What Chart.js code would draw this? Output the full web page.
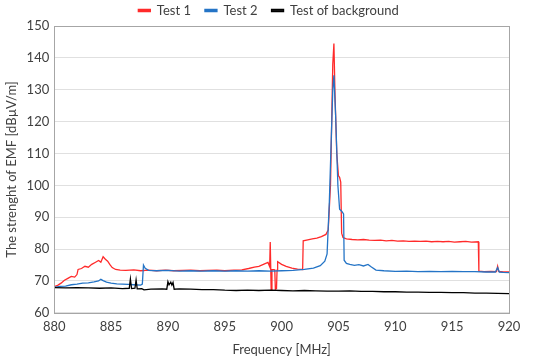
<!DOCTYPE html>
<html lang="en">
<head>
  <meta charset="UTF-8">
  <title>EMF strength vs frequency</title>
  <script src="https://cdn.jsdelivr.net/npm/chart.js"></script>
  <style>
    html, body { margin: 0; padding: 0; background: #fff; }
    #wrap { width: 550px; height: 364px; }
  </style>
</head>
<body>
  <div id="wrap"><canvas id="chart"></canvas></div>
  <script>
    // Test 1 (red)
    const test1Freq = [880, 880.3, 880.6, 880.9, 881.2, 881.5, 881.8, 882.0, 882.1, 882.4, 882.7, 883.0, 883.3, 883.6, 883.9,
      884.1, 884.3, 884.5, 884.7, 884.9, 885.1, 885.4, 885.8, 886.3, 887, 887.6, 888.3, 889, 889.8, 890.5, 891.3, 892,
      892.8, 893.5, 894.3, 895, 895.8, 896.5, 897.1, 897.6, 898.0, 898.4, 898.8, 898.95, 899.0, 899.08, 899.15, 899.4,
      899.45, 899.55, 899.6, 899.65, 900.0, 900.4, 900.9, 901.4, 901.85, 901.9, 902.3, 902.7, 903.1, 903.5, 903.9, 904.1,
      904.3, 904.5, 904.6, 904.7, 904.85, 905.0, 905.1, 905.2, 905.28, 905.4, 905.7, 906.2, 906.7, 907.2, 907.7, 908.2,
      908.7, 909.2, 909.7, 910.2, 910.7, 911.2, 911.7, 912.2, 912.7, 913.2, 913.7, 914.2, 914.7, 915.2, 915.7, 916.2,
      916.7, 917.3, 917.35, 917.8, 918.4, 918.9, 919.0, 919.1, 919.5, 920];
    const test1Level = [68.2, 68.6, 69.3, 70.2, 70.8, 71.4, 71.2, 72.0, 73.6, 73.9, 74.6, 74.3, 75.2, 75.8, 76.4,
      75.9, 77.6, 76.8, 76.2, 75.1, 74.2, 73.6, 73.4, 73.3, 73.5, 73.2, 73.4, 73.2, 73.4, 73.2, 73.3, 73.4,
      73.2, 73.3, 73.4, 73.2, 73.4, 73.5, 73.9, 74.3, 74.6, 75.2, 75.8, 74.5, 82.2, 67.3, 73.6, 73.5,
      67.4, 67.6, 73.4, 76.0, 75.2, 74.6, 74.0, 73.7, 73.6, 82.6, 82.9, 83.2, 83.4, 83.9, 84.6, 86,
      100, 138, 144.5, 128, 110, 103, 102.5, 101, 85, 83.6, 83.2, 83.0, 82.9, 83.0, 82.8, 82.7,
      82.8, 82.6, 82.7, 82.5, 82.6, 82.4, 82.5, 82.4, 82.5, 82.3, 82.4, 82.3, 82.4, 82.2, 82.3, 82.4,
      82.2, 82.3, 73.1, 72.9, 73.0, 72.9, 74.6, 73.0, 72.8, 72.8];

    // Test 2 (blue)
    const test2Freq = [880, 880.5, 881, 881.5, 882, 882.5, 883, 883.5, 883.9, 884.1, 884.3, 884.6, 885, 885.5, 886, 886.5,
      887, 887.6, 887.75, 887.85, 888.0, 888.3, 889, 890, 891, 892, 893, 894, 895, 896, 897, 898, 899, 900, 901, 902,
      902.8, 903.4, 903.8, 904.0, 904.2, 904.5, 904.6, 904.75, 904.95, 905.1, 905.3, 905.45, 905.5, 905.7, 906, 906.4,
      906.8, 907.2, 907.6, 907.9, 908.3, 909, 910, 911, 912, 913, 914, 915, 916, 917, 918, 918.8, 919.0, 919.15, 919.5, 920];
    const test2Level = [68.0, 68.3, 68.4, 68.8, 69.0, 69.3, 69.4, 69.7, 70.0, 70.5, 70.1, 69.6, 69.3, 69.1, 69.0, 68.9,
      68.8, 68.7, 69.0, 75.0, 74.0, 73.3, 73.2, 73.3, 73.1, 73.2, 73.1, 73.2, 73.1, 73.2, 73.1, 73.2, 73.1, 73.2, 73.3, 73.6,
      74.0, 74.8, 76.2, 78.5, 95, 130, 134.5, 122, 100, 92.5, 91.8, 91, 76.5, 75.5, 75.2, 74.9,
      75.1, 74.7, 75.2, 74.4, 73.4, 73.2, 73.0, 73.1, 72.9, 73.0, 72.9, 73.0, 72.9, 72.9, 72.8, 72.8, 74.2, 72.8, 72.7, 72.6];

    // Test of background (black)
    const bgFreq = [880, 881, 882, 883, 884, 885, 886, 886.6, 886.7, 886.8, 887.1, 887.2, 887.3, 887.7, 887.9, 888.5,
      889.5, 889.9, 890.0, 890.1, 890.25, 890.35, 890.45, 890.55, 891, 892, 893, 894, 895, 896, 897, 898, 899, 900, 901,
      902, 903, 904, 905, 906, 907, 908, 909, 910, 911, 912, 913, 914, 915, 916, 917, 918, 919, 920];
    const bgLevel = [67.9, 67.8, 67.9, 67.8, 67.7, 67.8, 67.6, 67.7, 70.6, 67.6, 67.7, 70.3, 67.5, 67.6, 67.2, 67.4,
      67.5, 67.4, 69.8, 68.8, 69.6, 68.7, 69.5, 67.4, 67.5, 67.4, 67.3, 67.3, 67.1, 67.0, 67.1, 67.0, 67.1, 67.0, 66.9,
      67.0, 66.9, 66.8, 66.8, 66.9, 66.7, 66.7, 66.6, 66.6, 66.5, 66.5, 66.4, 66.4, 66.3, 66.3, 66.2, 66.2, 66.1, 66.0];

    const seriesNames = ['Test 1', 'Test 2', 'Test of background'];
    const xTitle = 'Frequency [MHz]';
    const yTitle = 'The strenght of EMF [dBµV/m]';

    function pts(xs, ys) {
      return xs.map((x, i) => ({ x: x, y: ys[i] }));
    }

    // box round the plot area, Excel style
    const frame = {
      id: 'frame',
      afterDraw(chart) {
        const a = chart.chartArea;
        const c = chart.ctx;
        c.save();
        c.strokeStyle = '#a6a6a6';
        c.lineWidth = 1;
        c.strokeRect(Math.round(a.left) + 0.5, Math.round(a.top) + 0.5,
          Math.round(a.right - a.left), Math.round(a.bottom - a.top));
        c.restore();
      }
    };

    // legend: less room below it, and nudged right like the original
    const tightLegend = {
      id: 'tightLegend',
      beforeInit(chart) {
        const fit = chart.legend.fit;
        chart.legend.fit = function () {
          fit.call(this);
          this.height -= 1;
        };
      },
      afterLayout(chart) {
        chart.legend.left += 14;
        chart.legend.right += 14;
      }
    };

    const font = "Lato, 'Noto Sans', sans-serif";
    const ctx = document.getElementById('chart').getContext('2d');
    new Chart(ctx, {
      type: 'line',
      data: {
        datasets: [
          { label: seriesNames[0], data: pts(test1Freq, test1Level), borderColor: '#ff2a2a', backgroundColor: '#ff2a2a', order: 3 },
          { label: seriesNames[1], data: pts(test2Freq, test2Level), borderColor: '#2474c6', backgroundColor: '#2474c6', order: 2 },
          { label: seriesNames[2], data: pts(bgFreq, bgLevel), borderColor: '#000000', backgroundColor: '#262626', order: 1 }
        ]
      },
      options: {
        responsive: true,
        maintainAspectRatio: false,
        animation: false,
        layout: { padding: { left: 0, right: 41, top: -10, bottom: 2 } },
        elements: {
          line: { borderWidth: 1.3, tension: 0 },
          point: { radius: 0 }
        },
        plugins: {
          tooltip: { enabled: false },
          legend: {
            position: 'top',
            labels: {
              boxWidth: 12,
              boxHeight: 2,
              padding: 14,
              color: '#404040',
              font: { family: font, size: 13 },
              sort: (a, b) => a.datasetIndex - b.datasetIndex
            }
          }
        },
        scales: {
          x: {
            type: 'linear',
            min: 880,
            max: 920,
            ticks: { stepSize: 5, color: '#404040', font: { family: font, size: 13 }, padding: 6 },
            grid: { display: false, drawTicks: false },
            border: { display: false },
            title: { display: true, text: xTitle, color: '#404040', font: { family: font, size: 13 }, padding: { top: 2 } }
          },
          y: {
            min: 60,
            max: 150,
            ticks: { stepSize: 10, color: '#404040', font: { family: font, size: 13 }, padding: 5 },
            grid: { color: '#e0e0e0', drawTicks: false },
            border: { display: false },
            title: { display: true, text: yTitle, color: '#404040', font: { family: font, size: 13 }, padding: { bottom: 2 } }
          }
        }
      },
      plugins: [frame, tightLegend]
    });
  </script>
</body>
</html>
